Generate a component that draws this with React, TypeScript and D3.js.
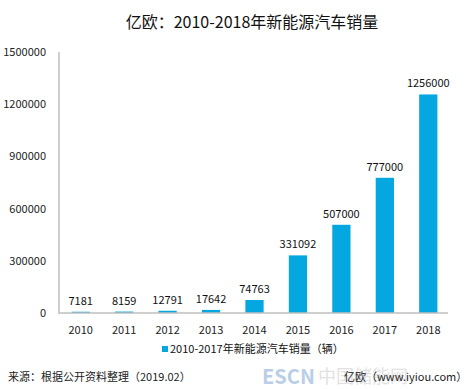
import React from 'react'
import * as d3 from 'd3'

const years = ['2010', '2011', '2012', '2013', '2014', '2015', '2016', '2017', '2018']
const sales = [7181, 8159, 12791, 17642, 74763, 331092, 507000, 777000, 1256000]
const yTicks = [0, 300000, 600000, 900000, 1200000, 1500000]

const W = 467
const H = 389
const font = '"Noto Sans CJK SC", "Microsoft YaHei", sans-serif'
const barColor = '#05a7e0'

export default function App() {
	const x = d3.scaleBand().domain(years).range([59, 450]).paddingInner(0.58).paddingOuter(0.29)
	const y = d3.scaleLinear().domain([0, 1500000]).range([313, 52])

	return (
		<svg width={W} height={H} style={{ position: 'absolute', left: 0, top: 0, background: '#fff' }} fontFamily={font}>
			<text x={252} y={28} textAnchor='middle' fontSize={16} fill='#111'>
				亿欧：2010-2018年新能源汽车销量
			</text>

			{yTicks.map(t => (
				<text key={t} x={46} y={y(t) + 4} textAnchor='end' fontSize={11} fill='#222'>
					{t}
				</text>
			))}

			{years.map((yr, i) => (
				<g key={yr}>
					<rect x={x(yr)} y={y(sales[i])} width={x.bandwidth()} height={313 - y(sales[i])} fill={barColor} />
					<text x={x(yr)! + x.bandwidth() / 2} y={y(sales[i]) - 7} textAnchor='middle' fontSize={11} fill='#111'>
						{sales[i]}
					</text>
					<text x={x(yr)! + x.bandwidth() / 2} y={334} textAnchor='middle' fontSize={11} fill='#222'>
						{yr}
					</text>
				</g>
			))}

			<line x1={59} x2={59} y1={52} y2={314} stroke='#bfbfbf' strokeWidth={1.5} />
			<line x1={59} x2={448} y1={313} y2={313} stroke='#bfbfbf' strokeWidth={1.5} />

			<rect x={162} y={346} width={6} height={6} fill={barColor} />
			<text x={170} y={353} fontSize={11} fill='#111'>
				2010-2017年新能源汽车销量（辆）
			</text>

			{/* watermark */}
			<text x={262} y={384} fontSize={20} fontWeight='bold' fill='#9dbbdd' opacity={0.7}>
				ESCN
			</text>
			<text x={318} y={383} fontSize={18} fill='#cfcfcf' opacity={0.6}>
				中国储能网
			</text>

			<text x={8} y={381} fontSize={11} fill='#222'>
				来源：根据公开资料整理（2019.02）
			</text>
			<text x={344} y={381} fontSize={11} fill='#222'>
				亿欧（www.iyiou.com）
			</text>
		</svg>
	)
}
